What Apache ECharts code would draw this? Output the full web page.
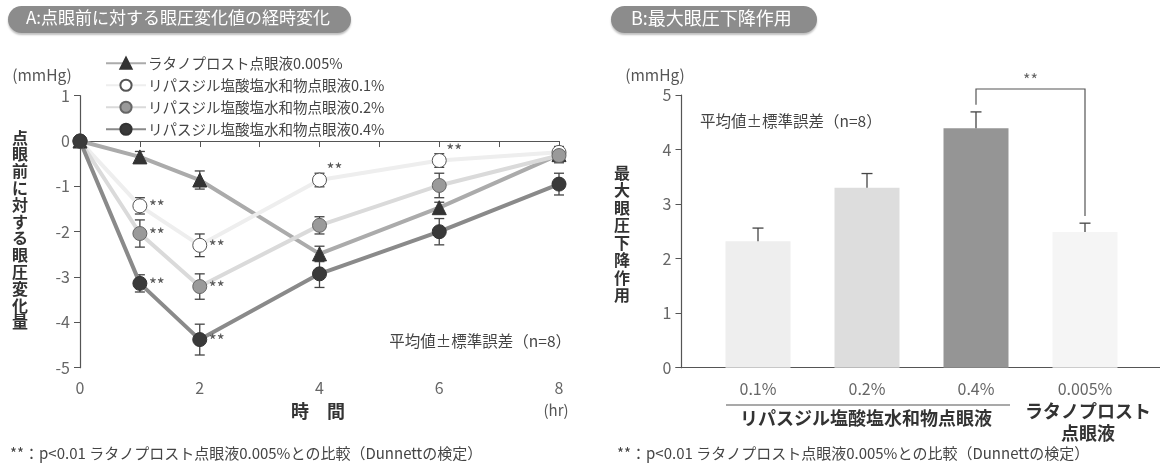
<!DOCTYPE html>
<html><head><meta charset="utf-8">
<script src="https://cdn.jsdelivr.net/npm/echarts@6/dist/echarts.min.js"></script>
<style>html,body{margin:0;padding:0;background:#fff}#c{width:1160px;height:466px}</style>
</head><body><div id="c"></div>
<script>
// ---- Panel A data ----
var hours = [0, 1, 2, 4, 6, 8];
var seriesNames = ['ラタノプロスト点眼液0.005%', 'リパスジル塩酸塩水和物点眼液0.1%', 'リパスジル塩酸塩水和物点眼液0.2%', 'リパスジル塩酸塩水和物点眼液0.4%'];
var latMean  = [0, -0.35, -0.86, -2.49, -1.47, -0.30];
var latSE    = [0, 0.12, 0.20, 0.17, 0.12, 0.10];
var r01Mean  = [0, -1.43, -2.30, -0.86, -0.43, -0.25];
var r01SE    = [0, 0.18, 0.25, 0.15, 0.15, 0.13];
var r02Mean  = [0, -2.04, -3.21, -1.86, -0.98, -0.32];
var r02SE    = [0, 0.30, 0.28, 0.19, 0.27, 0.16];
var r04Mean  = [0, -3.14, -4.38, -2.93, -2.00, -0.95];
var r04SE    = [0, 0.19, 0.34, 0.30, 0.29, 0.24];
var r01Sig   = [1, 2, 4, 6];   // hours with ** (0.1%)
var r02Sig   = [1, 2];
var r04Sig   = [1, 2];
var timeTicks = [0, 2, 4, 6, 8];

// ---- Panel B data ----
var barCats  = ['0.1%', '0.2%', '0.4%', '0.005%'];
var barMean  = [2.32, 3.30, 4.39, 2.49];
var barSE    = [0.24, 0.26, 0.30, 0.16];
var sigPair  = [2, 3];
var sigTop   = 5.11;
var sigEnds  = [4.82, 2.78];

var FONT = '"Noto Sans CJK JP", "Noto Sans", sans-serif';
var chart = echarts.init(document.getElementById('c'));

function pts(mean) { return hours.map(function (h, i) { return [h, mean[i]]; }); }
function errData(mean, se) { return hours.map(function (h, i) { return [h, mean[i] - se[i], mean[i] + se[i]]; }); }
function errBarSeries(mean, se) {
  return {
    type: 'custom', xAxisIndex: 0, yAxisIndex: 0, z: 1, silent: true,
    data: errData(mean, se).filter(function (d) { return d[2] - d[1] > 0; }),
    renderItem: function (params, api) {
      var lo = api.coord([api.value(0), api.value(1)]);
      var hi = api.coord([api.value(0), api.value(2)]);
      var w = 5;
      var st = { stroke: '#444', lineWidth: 1.3 };
      return { type: 'group', children: [
        { type: 'line', shape: { x1: lo[0], y1: lo[1], x2: hi[0], y2: hi[1] }, style: st },
        { type: 'line', shape: { x1: lo[0] - w, y1: lo[1], x2: lo[0] + w, y2: lo[1] }, style: st },
        { type: 'line', shape: { x1: hi[0] - w, y1: hi[1], x2: hi[0] + w, y2: hi[1] }, style: st }
      ]};
    }
  };
}
function starSeries(sigHours, mean) {
  return {
    type: 'custom', xAxisIndex: 0, yAxisIndex: 0, z: 5, silent: true,
    data: sigHours.map(function (h) { return [h, mean[hours.indexOf(h)]]; }),
    renderItem: function (params, api) {
      var p = api.coord([api.value(0), api.value(1)]);
      var up = api.value(0) >= 4;
      return { type: 'text', x: p[0] + (up ? 7 : 9), y: p[1] + (up ? -10 : 1),
        style: { text: '**', fill: '#555', font: '17px ' + FONT, verticalAlign: 'middle', align: 'left' } };
    }
  };
}
function lineSeries(name, mean, lineColor, symbol, fill, border, size) {
  return {
    name: name, type: 'line', xAxisIndex: 0, yAxisIndex: 0, z: 3,
    data: pts(mean), symbol: symbol, symbolSize: size, showAllSymbol: true,
    lineStyle: { color: lineColor, width: 4 },
    itemStyle: { color: fill, borderColor: border, borderWidth: 1 },
    emphasis: { disabled: true }
  };
}

var axisLabelStyle = { color: '#666', fontSize: 16, fontFamily: FONT };
var axisLineStyle = { lineStyle: { color: '#555', width: 1.2 } };

var option = {
  animation: false,
  backgroundColor: '#fff',
  textStyle: { fontFamily: FONT },
  grid: [
    { left: 80, right: 601, top: 95.7, bottom: 98.3 },
    { left: 703.5, right: 20.5, top: 95, bottom: 98.3 },
    { left: 676, right: 0, top: 95, bottom: 98.3 }
  ],
  legend: {
    data: seriesNames, orient: 'vertical', left: 100, top: 51,
    itemWidth: 40, itemHeight: 14, itemGap: 7.5,
    textStyle: { color: '#444', fontSize: 14.5, fontFamily: FONT, lineHeight: 14, padding: [0, 0, 0, -3] },
    selectedMode: false
  },
  xAxis: [
    { gridIndex: 0, type: 'value', min: 0, max: 8, interval: 1,
      axisLine: axisLineStyle, axisTick: { show: true, length: 6, lineStyle: { color: '#555' } },
      splitLine: { show: false },
      axisLabel: Object.assign({ margin: 12, formatter: function (v) { return timeTicks.indexOf(v) >= 0 ? String(v) : ''; } }, axisLabelStyle) },
    { gridIndex: 1, type: 'category', data: barCats,
      axisLine: { show: false }, axisTick: { show: false },
      axisLabel: Object.assign({ margin: 13 }, axisLabelStyle) },
    { gridIndex: 2, type: 'value', min: 0, max: 1,
      axisLine: axisLineStyle, axisTick: { show: false }, axisLabel: { show: false }, splitLine: { show: false } }
  ],
  yAxis: [
    { gridIndex: 0, type: 'value', min: -5, max: 1, interval: 1,
      axisLine: { show: true, lineStyle: { color: '#555', width: 1.2 } },
      axisTick: { show: true, length: 6, lineStyle: { color: '#555' } },
      splitLine: { show: false },
      axisLabel: Object.assign({ margin: 10 }, axisLabelStyle) },
    { gridIndex: 1, type: 'value', min: 0, max: 5, interval: 1, offset: 22,
      axisLine: { show: true, lineStyle: { color: '#555', width: 1.2 } },
      axisTick: { show: true, length: 6, lineStyle: { color: '#555' } },
      splitLine: { show: false },
      axisLabel: Object.assign({ margin: 10 }, axisLabelStyle) },
    { gridIndex: 2, type: 'value', show: false, min: 0, max: 1 }
  ],
  series: [
    errBarSeries(latMean, latSE), errBarSeries(r01Mean, r01SE), errBarSeries(r02Mean, r02SE), errBarSeries(r04Mean, r04SE),
    lineSeries(seriesNames[0], latMean, '#ababab', 'triangle', '#333', '#333', 14),
    lineSeries(seriesNames[1], r01Mean, '#eeeeee', 'circle', '#fff', '#555', 14),
    lineSeries(seriesNames[2], r02Mean, '#dadada', 'circle', '#9a9a9a', '#666', 14),
    lineSeries(seriesNames[3], r04Mean, '#8a8a8a', 'circle', '#3a3a3a', '#333', 14),
    starSeries(r01Sig, r01Mean), starSeries(r02Sig, r02Mean), starSeries(r04Sig, r04Mean),
    { type: 'bar', xAxisIndex: 1, yAxisIndex: 1, barWidth: 65, z: 2,
      data: barMean.map(function (v, i) {
        return { value: v, itemStyle: { color: ['#eeeeee', '#dddddd', '#959595', '#f5f5f5'][i] } };
      }) },
    { type: 'custom', xAxisIndex: 1, yAxisIndex: 1, z: 3, silent: true,
      data: barMean.map(function (v, i) { return [i, v, v + barSE[i]]; }),
      renderItem: function (params, api) {
        var lo = api.coord([api.value(0), api.value(1)]);
        var hi = api.coord([api.value(0), api.value(2)]);
        var st = { stroke: '#444', lineWidth: 1.3 };
        return { type: 'group', children: [
          { type: 'line', shape: { x1: lo[0], y1: lo[1], x2: hi[0], y2: hi[1] }, style: st },
          { type: 'line', shape: { x1: hi[0] - 5.5, y1: hi[1], x2: hi[0] + 5.5, y2: hi[1] }, style: st }
        ]};
      } },
    { type: 'custom', xAxisIndex: 1, yAxisIndex: 1, z: 3, silent: true,
      data: [[sigPair[0], sigPair[1], sigTop, sigEnds[0], sigEnds[1]]],
      renderItem: function (params, api) {
        var a0 = api.coord([api.value(0), api.value(3)]);
        var a1 = api.coord([api.value(0), api.value(2)]);
        var b1 = api.coord([api.value(1), api.value(2)]);
        var b0 = api.coord([api.value(1), api.value(4)]);
        return { type: 'group', children: [
          { type: 'polyline', shape: { points: [a0, a1, b1, b0] }, style: { stroke: '#555', lineWidth: 1.2, fill: null } },
          { type: 'text', x: (a1[0] + b1[0]) / 2, y: a1[1] - 9,
            style: { text: '**', fill: '#666', font: '16px ' + FONT, align: 'center', verticalAlign: 'middle' } }
        ]};
      } }
  ],
  graphic: [
    // title pills
    { type: 'rect', left: 8, top: 6, shape: { width: 343, height: 27, r: 13.5 },
      style: { fill: '#8c8c8c', shadowColor: 'rgba(0,0,0,0.25)', shadowOffsetY: 2, shadowBlur: 2 } },
    { type: 'text', left: 26, top: 9.5, style: { text: 'A:点眼前に対する眼圧変化値の経時変化', fill: '#fff', font: '17px ' + FONT } },
    { type: 'rect', left: 611, top: 6, shape: { width: 206, height: 27, r: 13.5 },
      style: { fill: '#8c8c8c', shadowColor: 'rgba(0,0,0,0.25)', shadowOffsetY: 2, shadowBlur: 2 } },
    { type: 'text', left: 631, top: 9, style: { text: 'B:最大眼圧下降作用', fill: '#fff', font: '18px ' + FONT } },
    // panel A texts
    { type: 'text', x: 42, y: 75, style: { text: '(mmHg)', fill: '#555', font: '15.5px ' + FONT, align: 'center', verticalAlign: 'middle' } },
    { type: 'text', x: 20, y: 230, style: { text: '点眼前に対する眼圧変化量'.split('').join('\n'), fill: '#333', font: 'bold 16px ' + FONT, lineHeight: 16.8, align: 'center', verticalAlign: 'middle' } },
    { type: 'text', x: 318, y: 411, style: { text: '時　間', fill: '#333', font: 'bold 18px ' + FONT, align: 'center', verticalAlign: 'middle' } },
    { type: 'text', x: 556, y: 410, style: { text: '(hr)', fill: '#555', font: '15px ' + FONT, align: 'center', verticalAlign: 'middle' } },
    { type: 'text', x: 571, y: 341, style: { text: '平均値±標準誤差（n=8）', fill: '#444', font: '15.5px ' + FONT, align: 'right', verticalAlign: 'middle' } },
    { type: 'text', x: 10, y: 453, style: { text: '**：p<0.01 ラタノプロスト点眼液0.005%との比較（Dunnettの検定）', fill: '#444', font: '15px ' + FONT, verticalAlign: 'middle' } },
    // panel B texts
    { type: 'text', x: 655, y: 75, style: { text: '(mmHg)', fill: '#555', font: '15.5px ' + FONT, align: 'center', verticalAlign: 'middle' } },
    { type: 'text', x: 622, y: 234, style: { text: '最大眼圧下降作用'.split('').join('\n'), fill: '#333', font: 'bold 16px ' + FONT, lineHeight: 17.5, align: 'center', verticalAlign: 'middle' } },
    { type: 'text', x: 700, y: 121, style: { text: '平均値±標準誤差（n=8）', fill: '#444', font: '15.5px ' + FONT, verticalAlign: 'middle' } },
    { type: 'line', shape: { x1: 726, y1: 405, x2: 1010, y2: 405 }, style: { stroke: '#555', lineWidth: 1.2 } },
    { type: 'text', x: 866, y: 418, style: { text: 'リパスジル塩酸塩水和物点眼液', fill: '#333', font: 'bold 18px ' + FONT, align: 'center', verticalAlign: 'middle' } },
    { type: 'text', x: 1088, y: 411, style: { text: 'ラタノプロスト', fill: '#333', font: 'bold 18px ' + FONT, align: 'center', verticalAlign: 'middle' } },
    { type: 'text', x: 1088, y: 433, style: { text: '点眼液', fill: '#333', font: 'bold 18px ' + FONT, align: 'center', verticalAlign: 'middle' } },
    { type: 'text', x: 617, y: 453, style: { text: '**：p<0.01 ラタノプロスト点眼液0.005%との比較（Dunnettの検定）', fill: '#444', font: '15px ' + FONT, verticalAlign: 'middle' } }
  ]
};
chart.setOption(option);
</script></body></html>
